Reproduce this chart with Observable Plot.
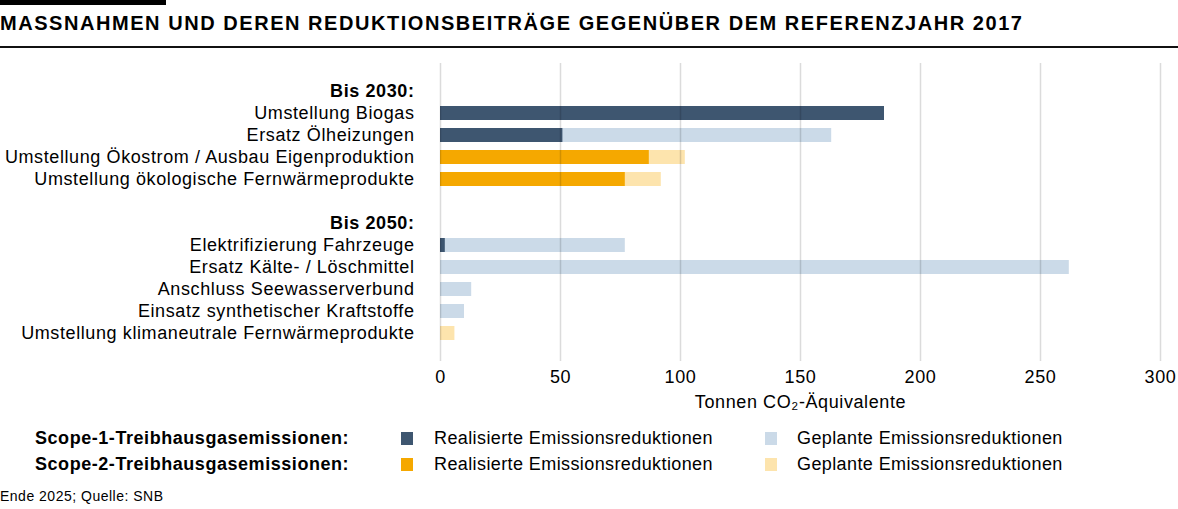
<!DOCTYPE html>
<html>
<head>
<meta charset="utf-8">
<script src="https://cdn.jsdelivr.net/npm/d3@7"></script>
<script src="https://cdn.jsdelivr.net/npm/@observablehq/plot@0.6"></script>
<style>
  html, body { margin: 0; padding: 0; background: #fff; }
  body { width: 1178px; height: 509px; position: relative; overflow: hidden; font-family: "Liberation Sans", Arial, sans-serif; color: #000; }
  #topbar { position: absolute; left: 0; top: 0; width: 166px; height: 5px; background: #000; }
  #title { position: absolute; left: 0; top: 12px; font-size: 20px; font-weight: bold; letter-spacing: 1.55px; white-space: nowrap; }
  #rule { position: absolute; left: 0; top: 46px; width: 1178px; height: 2px; background: #111; }
  #chart { position: absolute; left: 0; top: 50px; }
  #legend { position: absolute; left: 0; top: 428px; width: 1178px; height: 50px; font-size: 18px; letter-spacing: 0.4px; }
  .lrow { position: absolute; left: 0; height: 22px; width: 1178px; }
  .lhead { position: absolute; left: 35px; top: 0; font-weight: bold; letter-spacing: 0.55px; white-space: nowrap; }
  .sw { position: absolute; top: 4px; width: 12px; height: 13px; }
  .lt { position: absolute; top: 0; white-space: nowrap; }
  #footer { position: absolute; left: 0; top: 488px; font-size: 14px; letter-spacing: 0.5px; white-space: nowrap; }
</style>
</head>
<body>
<div id="topbar"></div>
<div id="title"></div>
<div id="rule"></div>
<div id="chart"></div>
<div id="legend"></div>
<div id="footer"></div>
<script>
// ---- Data ----
const titleText = "MASSNAHMEN UND DEREN REDUKTIONSBEITRÄGE GEGENÜBER DEM REFERENZJAHR 2017";
const footerText = "Ende 2025; Quelle: SNB";
const axisLabel = "Tonnen CO₂-Äquivalente";

const rowLabels = [
  "Bis 2030:",
  "Umstellung Biogas",
  "Ersatz Ölheizungen",
  "Umstellung Ökostrom / Ausbau Eigenproduktion",
  "Umstellung ökologische Fernwärmeprodukte",
  "",
  "Bis 2050:",
  "Elektrifizierung Fahrzeuge",
  "Ersatz Kälte- / Löschmittel",
  "Anschluss Seewasserverbund",
  "Einsatz synthetischer Kraftstoffe",
  "Umstellung klimaneutrale Fernwärmeprodukte"
];
const headerLabels = ["Bis 2030:", "Bis 2050:"];

const measures = [
  "Umstellung Biogas",
  "Ersatz Ölheizungen",
  "Umstellung Ökostrom / Ausbau Eigenproduktion",
  "Umstellung ökologische Fernwärmeprodukte",
  "Elektrifizierung Fahrzeuge",
  "Ersatz Kälte- / Löschmittel",
  "Anschluss Seewasserverbund",
  "Einsatz synthetischer Kraftstoffe",
  "Umstellung klimaneutrale Fernwärmeprodukte"
];
const scopes   = [1, 1, 2, 2, 1, 1, 1, 1, 2];
const realized = [185, 51, 87, 77, 2, 0, 0, 0, 0];
const planned  = [185, 163, 102, 92, 77, 262, 13, 10, 6];

const xTicks = [0, 50, 100, 150, 200, 250, 300];

const seriesKeys = ["S1 realisiert", "S1 geplant", "S2 realisiert", "S2 geplant"];
const seriesColors = ["#3e5670", "#cbdae8", "#f5a800", "#fde4ad"];
const legendHeads = ["Scope-1-Treibhausgasemissionen:", "Scope-2-Treibhausgasemissionen:"];
const legendItems = ["Realisierte Emissionsreduktionen", "Geplante Emissionsreduktionen"];

// ---- Build tables ----
const rowIds = rowLabels.map((d, i) => i);
const idOf = label => rowLabels.indexOf(label);
const plannedRows = measures.map((m, i) => ({ row: idOf(m), value: planned[i], key: `S${scopes[i]} geplant` })).filter(d => d.value > 0);
const realizedRows = measures.map((m, i) => ({ row: idOf(m), value: realized[i], key: `S${scopes[i]} realisiert` })).filter(d => d.value > 0);
const labelRows = rowLabels.map((l, i) => ({ row: i, label: l, head: headerLabels.includes(l) }));

const chart = Plot.plot({
  width: 1178,
  height: 365,
  marginLeft: 440,
  marginRight: 18,
  marginTop: 13,
  marginBottom: 54,
  style: { fontFamily: "'Liberation Sans', Arial, sans-serif", fontSize: "18px", letterSpacing: "0.6px", color: "#000", background: "transparent" },
  x: { domain: [0, 300], ticks: xTicks },
  y: { domain: rowIds, insetTop: 21, insetBottom: 21, paddingInner: 8 / 22, paddingOuter: 0, axis: null },
  color: { domain: seriesKeys, range: seriesColors },
  marks: [
    Plot.barX(plannedRows, { x: "value", y: "row", fill: "key" }),
    Plot.barX(realizedRows, { x: "value", y: "row", fill: "key" }),
    Plot.gridX(xTicks, { stroke: "#000", strokeOpacity: 0.14, strokeWidth: 1.5 }),
    Plot.text(labelRows.filter(d => !d.head), {
      x: 0, y: "row", text: "label", textAnchor: "end", dx: -26, fill: "#000", fontSize: 18
    }),
    Plot.text(labelRows.filter(d => d.head), {
      x: 0, y: "row", text: "label", textAnchor: "end", dx: -26, fill: "#000", fontSize: 18, fontWeight: "bold"
    }),
    Plot.axisX(xTicks, {
      tickSize: 0, tickPadding: 9, fontSize: 18, fill: "#000",
      label: axisLabel, labelAnchor: "center", labelArrow: "none", labelOffset: 46
    })
  ]
});
document.getElementById("chart").appendChild(chart);

document.getElementById("title").textContent = titleText;
document.getElementById("footer").textContent = footerText;

// ---- Legend ----
const legend = document.getElementById("legend");
legendHeads.forEach((h, r) => {
  const row = document.createElement("div");
  row.className = "lrow";
  row.style.top = (r * 26) + "px";
  const head = document.createElement("div");
  head.className = "lhead";
  head.textContent = h;
  row.appendChild(head);
  legendItems.forEach((t, c) => {
    const key = seriesKeys[r * 2 + c];
    const sw = document.createElement("div");
    sw.className = "sw";
    sw.style.left = (c === 0 ? 401 : 765) + "px";
    sw.style.background = seriesColors[seriesKeys.indexOf(key)];
    row.appendChild(sw);
    const lt = document.createElement("div");
    lt.className = "lt";
    lt.style.left = (c === 0 ? 434 : 797) + "px";
    lt.textContent = t;
    row.appendChild(lt);
  });
  legend.appendChild(row);
});
</script>
</body>
</html>
